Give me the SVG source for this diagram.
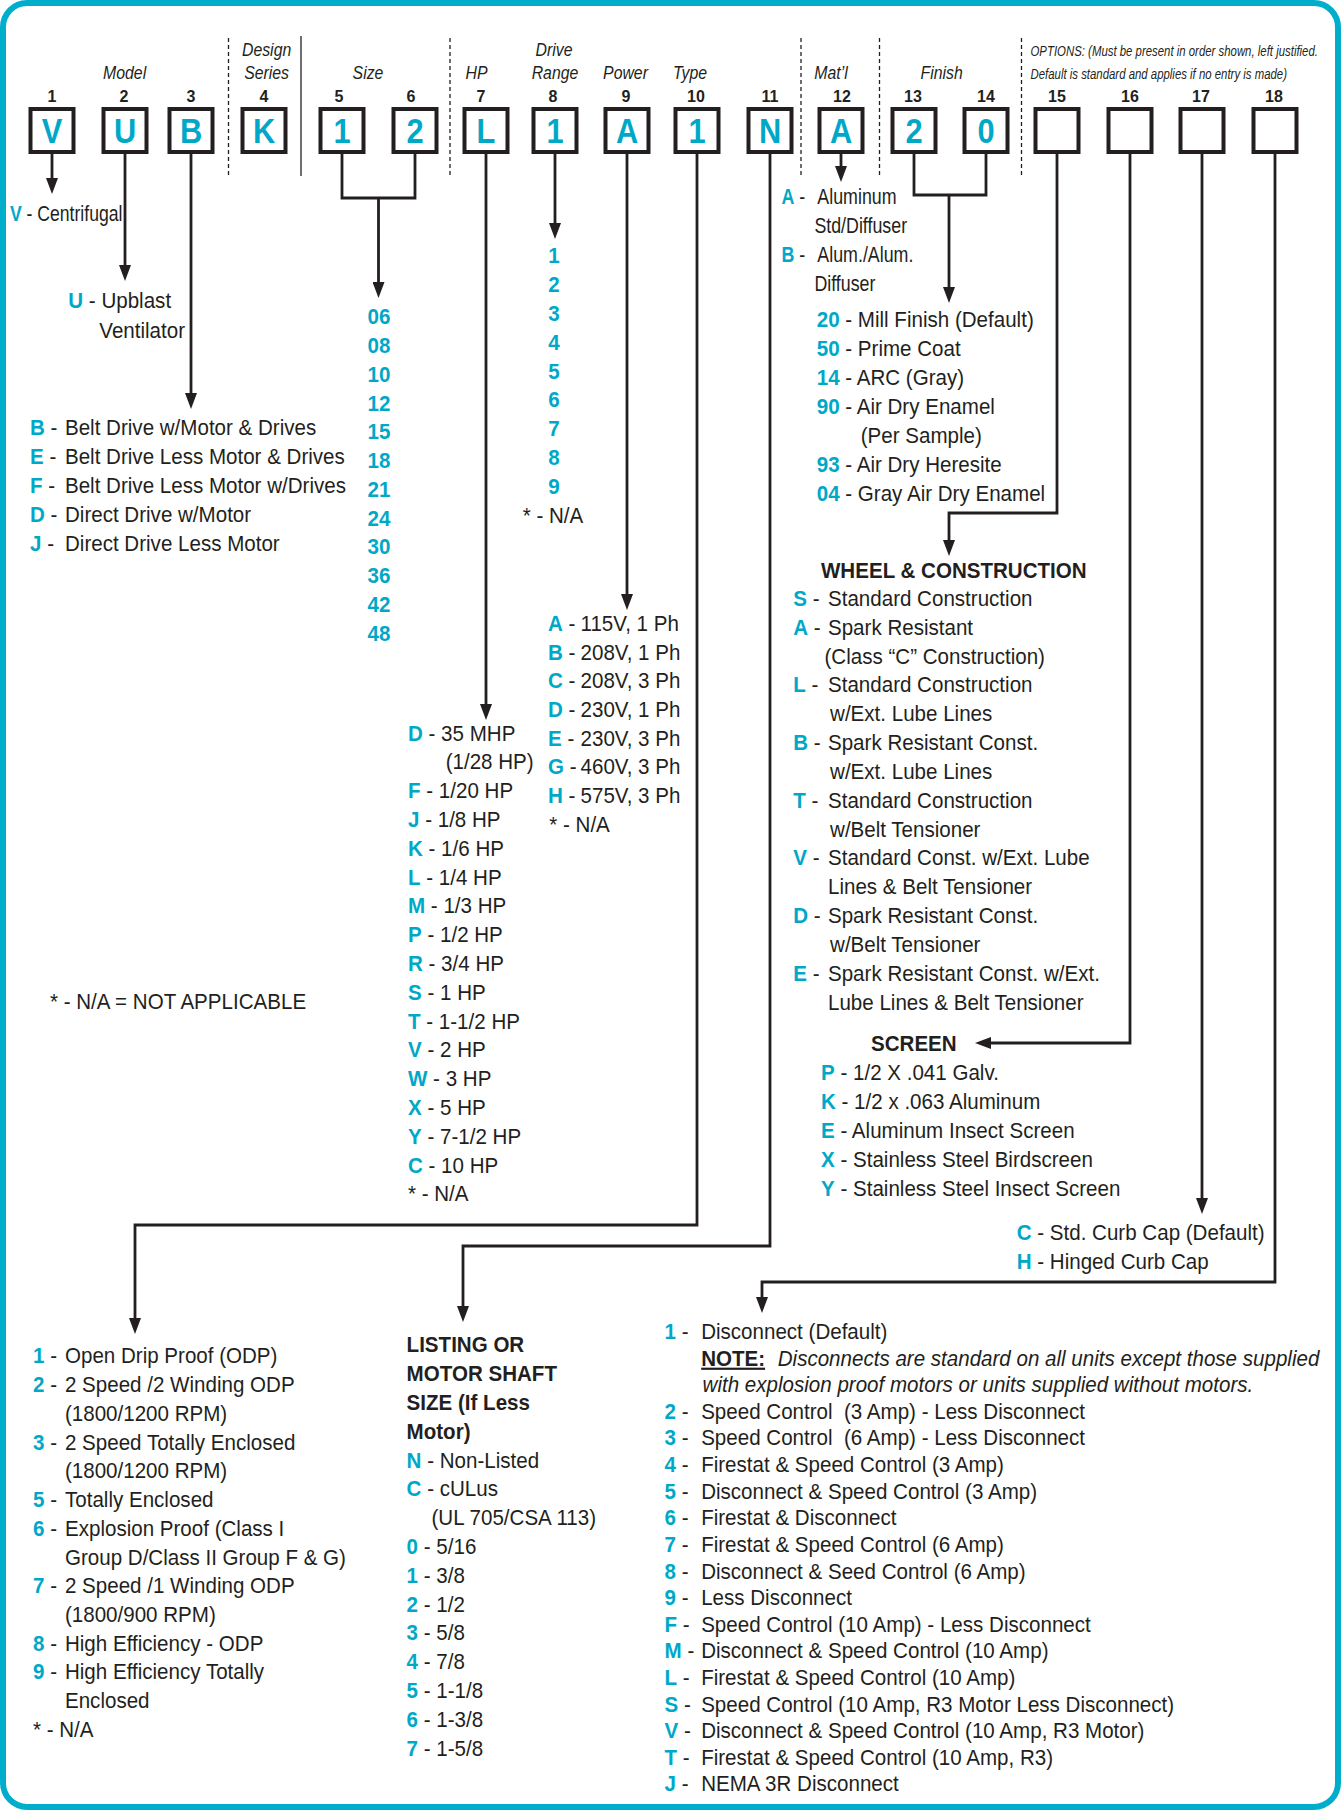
<svg xmlns="http://www.w3.org/2000/svg" width="1341" height="1810" viewBox="0 0 1341 1810">
<style>
text{font-family:"Liberation Sans",Arial,sans-serif;fill:#231f20}
.t{font-size:22px}
.c{fill:#00a8c8;font-weight:bold}
.h{font-weight:bold}
.i{font-style:italic}
.u{text-decoration:underline}
.hd{font-size:18px;font-style:italic;text-anchor:middle}
.op{font-size:15px;font-style:italic}
.num{font-size:16px;font-weight:bold;text-anchor:middle}
.bx{fill:#fff;stroke:#231f20;stroke-width:4}
.bl{font-size:35px;font-weight:bold;fill:#00a8c8;text-anchor:middle}
.ln{fill:none;stroke:#231f20;stroke-width:2.8;marker-end:url(#ah)}
.br{fill:none;stroke:#231f20;stroke-width:2.8}
.sep{stroke:#231f20;stroke-width:1.3;stroke-dasharray:4 3}
.sol{stroke:#231f20;stroke-width:1.3}
</style>
<defs>
<marker id="ah" markerWidth="16" markerHeight="12" refX="6" refY="6" orient="auto" markerUnits="userSpaceOnUse" viewBox="0 0 16 12"><path d="M0,0 L16,6 L0,12 z" fill="#231f20"/></marker>
</defs>
<rect x="0" y="0" width="1341" height="1810" fill="#fff"/>
<rect id="frame" x="3" y="3" width="1335" height="1804" rx="24" fill="#fff" stroke="#00aecb" stroke-width="6"/>

<g id="header">
<text class="hd" transform="translate(124.6 79) scale(.88 1)">Model</text>
<text class="hd" transform="translate(266.6 56) scale(.88 1)">Design</text>
<text class="hd" transform="translate(266.6 79) scale(.88 1)">Series</text>
<text class="hd" transform="translate(368 79) scale(.88 1)">Size</text>
<text class="hd" transform="translate(476.6 79) scale(.88 1)">HP</text>
<text class="hd" transform="translate(554 56) scale(.88 1)">Drive</text>
<text class="hd" transform="translate(555 79) scale(.88 1)">Range</text>
<text class="hd" transform="translate(625.5 79) scale(.88 1)">Power</text>
<text class="hd" transform="translate(690 79) scale(.88 1)">Type</text>
<text class="hd" transform="translate(831 79) scale(.88 1)">Mat’l</text>
<text class="hd" transform="translate(941.7 79) scale(.88 1)">Finish</text>
<text class="op" transform="translate(1030.5 56) scale(.76 1)">OPTIONS: (Must be present in order shown, left justified.</text>
<text class="op" transform="translate(1030.5 78.5) scale(.76 1)">Default is standard and applies if no entry is made)</text>
<line x1="228.5" y1="38" x2="228.5" y2="176" class="sep"/>
<line x1="301" y1="36" x2="301" y2="176" class="sol"/>
<line x1="450" y1="38" x2="450" y2="176" class="sep"/>
<line x1="801" y1="38" x2="801" y2="176" class="sep"/>
<line x1="879.5" y1="38" x2="879.5" y2="176" class="sep"/>
<line x1="1021.5" y1="38" x2="1021.5" y2="176" class="sep"/>
</g>

<g id="pos1"><text class="num" x="52" y="101.5">1</text><rect class="bx" x="30.5" y="109" width="43" height="43"/><text class="bl" transform="translate(52 143) scale(.88 1)">V</text></g>
<g id="pos2"><text class="num" x="124" y="101.5">2</text><rect class="bx" x="103.5" y="109" width="43" height="43"/><text class="bl" transform="translate(125 143) scale(.88 1)">U</text></g>
<g id="pos3"><text class="num" x="191" y="101.5">3</text><rect class="bx" x="169.5" y="109" width="43" height="43"/><text class="bl" transform="translate(191 143) scale(.88 1)">B</text></g>
<g id="pos4"><text class="num" x="264" y="101.5">4</text><rect class="bx" x="242.5" y="109" width="43" height="43"/><text class="bl" transform="translate(264 143) scale(.88 1)">K</text></g>
<g id="pos5"><text class="num" x="339" y="101.5">5</text><rect class="bx" x="320.5" y="109" width="43" height="43"/><text class="bl" transform="translate(342 143) scale(.88 1)">1</text></g>
<g id="pos6"><text class="num" x="411" y="101.5">6</text><rect class="bx" x="393.5" y="109" width="43" height="43"/><text class="bl" transform="translate(415 143) scale(.88 1)">2</text></g>
<g id="pos7"><text class="num" x="481" y="101.5">7</text><rect class="bx" x="464.5" y="109" width="43" height="43"/><text class="bl" transform="translate(486 143) scale(.88 1)">L</text></g>
<g id="pos8"><text class="num" x="553" y="101.5">8</text><rect class="bx" x="533.5" y="109" width="43" height="43"/><text class="bl" transform="translate(555 143) scale(.88 1)">1</text></g>
<g id="pos9"><text class="num" x="626" y="101.5">9</text><rect class="bx" x="605.5" y="109" width="43" height="43"/><text class="bl" transform="translate(627 143) scale(.88 1)">A</text></g>
<g id="pos10"><text class="num" x="696" y="101.5">10</text><rect class="bx" x="675.5" y="109" width="43" height="43"/><text class="bl" transform="translate(697 143) scale(.88 1)">1</text></g>
<g id="pos11"><text class="num" x="770" y="101.5">11</text><rect class="bx" x="748.5" y="109" width="43" height="43"/><text class="bl" transform="translate(770 143) scale(.88 1)">N</text></g>
<g id="pos12"><text class="num" x="842" y="101.5">12</text><rect class="bx" x="819.5" y="109" width="43" height="43"/><text class="bl" transform="translate(841 143) scale(.88 1)">A</text></g>
<g id="pos13"><text class="num" x="913" y="101.5">13</text><rect class="bx" x="892.5" y="109" width="43" height="43"/><text class="bl" transform="translate(914 143) scale(.88 1)">2</text></g>
<g id="pos14"><text class="num" x="986" y="101.5">14</text><rect class="bx" x="964.5" y="109" width="43" height="43"/><text class="bl" transform="translate(986 143) scale(.88 1)">0</text></g>
<g id="pos15"><text class="num" x="1057" y="101.5">15</text><rect class="bx" x="1035.5" y="109" width="43" height="43"/></g>
<g id="pos16"><text class="num" x="1130" y="101.5">16</text><rect class="bx" x="1108.5" y="109" width="43" height="43"/></g>
<g id="pos17"><text class="num" x="1201" y="101.5">17</text><rect class="bx" x="1180.5" y="109" width="43" height="43"/></g>
<g id="pos18"><text class="num" x="1274" y="101.5">18</text><rect class="bx" x="1253.5" y="109" width="43" height="43"/></g>

<g id="connectors">
<path class="ln" d="M52,153 V184"/>
<path class="ln" d="M125,153 V271"/>
<path class="ln" d="M191,153 V399"/>
<path class="br" d="M342,153 V198 H415 V153"/>
<path class="ln" d="M378.5,198 V288"/>
<path class="ln" d="M486,153 V710"/>
<path class="ln" d="M555,153 V229"/>
<path class="ln" d="M627,153 V600"/>
<path class="ln" d="M697,153 V1225 H135 V1324"/>
<path class="ln" d="M770,153 V1246 H463 V1312"/>
<path class="ln" d="M841,153 V172"/>
<path class="br" d="M914,153 V195 H986 V153"/>
<path class="ln" d="M949,195 V293"/>
<path class="ln" d="M1057,153 V513 H949 V546"/>
<path class="ln" d="M1130,153 V1043 H985"/>
<path class="ln" d="M1202,153 V1204"/>
<path class="ln" d="M1275,153 V1282 H762 V1303"/>
</g>

<g id="opt-model1" class="t" transform="translate(10 0) scale(.8 1)"><text y="221"><tspan class="c">V</tspan> - Centrifugal</text></g>
<g id="opt-model2" class="t" transform="translate(68.3 0) scale(.935 1)"><text y="308.5"><tspan class="c">U</tspan> - Upblast</text><text x="33.2" y="338">Ventilator</text></g>
<g id="opt-model3" class="t" transform="translate(30 0) scale(.935 1)">
<text y="435.5"><tspan class="c">B</tspan> -<tspan x="37.4">Belt Drive w/Motor &amp; Drives</tspan></text>
<text y="464.3"><tspan class="c">E</tspan> -<tspan x="37.4">Belt Drive Less Motor &amp; Drives</tspan></text>
<text y="493.1"><tspan class="c">F</tspan> -<tspan x="37.4">Belt Drive Less Motor w/Drives</tspan></text>
<text y="521.9"><tspan class="c">D</tspan> -<tspan x="37.4">Direct Drive w/Motor</tspan></text>
<text y="550.7"><tspan class="c">J</tspan> -<tspan x="37.4">Direct Drive Less Motor</tspan></text>
</g>
<g id="opt-size" class="t" transform="translate(367.5 0) scale(.935 1)">
<text class="c" y="324.5">06</text><text class="c" y="353.25">08</text><text class="c" y="382">10</text><text class="c" y="410.75">12</text><text class="c" y="439.5">15</text><text class="c" y="468.25">18</text><text class="c" y="497">21</text><text class="c" y="525.75">24</text><text class="c" y="554.5">30</text><text class="c" y="583.25">36</text><text class="c" y="612">42</text><text class="c" y="640.75">48</text>
</g>
<g id="opt-drive" class="t" transform="translate(548.3 0) scale(.935 1)">
<text class="c" y="263.5">1</text><text class="c" y="292.3">2</text><text class="c" y="321.1">3</text><text class="c" y="349.9">4</text><text class="c" y="378.7">5</text><text class="c" y="407.5">6</text><text class="c" y="436.3">7</text><text class="c" y="465.1">8</text><text class="c" y="493.9">9</text>
<text x="-27.4" y="522.7">* - N/A</text>
</g>
<g id="opt-power" class="t" transform="translate(548 0) scale(.935 1)">
<text y="631"><tspan class="c">A</tspan> -<tspan x="34.8">115V, 1 Ph</tspan></text>
<text y="659.7"><tspan class="c">B</tspan> -<tspan x="34.8">208V, 1 Ph</tspan></text>
<text y="688.4"><tspan class="c">C</tspan> -<tspan x="34.8">208V, 3 Ph</tspan></text>
<text y="717.1"><tspan class="c">D</tspan> -<tspan x="34.8">230V, 1 Ph</tspan></text>
<text y="745.8"><tspan class="c">E</tspan> -<tspan x="34.8">230V, 3 Ph</tspan></text>
<text y="774.5"><tspan class="c">G</tspan> -<tspan x="34.8">460V, 3 Ph</tspan></text>
<text y="803.2"><tspan class="c">H</tspan> -<tspan x="34.8">575V, 3 Ph</tspan></text>
<text x="1.4" y="831.9">* - N/A</text>
</g>
<g id="opt-hp" class="t" transform="translate(408 0) scale(.935 1)">
<text y="740.7"><tspan class="c">D</tspan> - 35 MHP</text>
<text x="40.3" y="769.5">(1/28 HP)</text>
<text y="798.3"><tspan class="c">F</tspan> - 1/20 HP</text>
<text y="827.1"><tspan class="c">J</tspan> - 1/8 HP</text>
<text y="855.9"><tspan class="c">K</tspan> - 1/6 HP</text>
<text y="884.7"><tspan class="c">L</tspan> - 1/4 HP</text>
<text y="913.5"><tspan class="c">M</tspan> - 1/3 HP</text>
<text y="942.3"><tspan class="c">P</tspan> - 1/2 HP</text>
<text y="971.1"><tspan class="c">R</tspan> - 3/4 HP</text>
<text y="999.9"><tspan class="c">S</tspan> - 1 HP</text>
<text y="1028.7"><tspan class="c">T</tspan> - 1-1/2 HP</text>
<text y="1057.5"><tspan class="c">V</tspan> - 2 HP</text>
<text y="1086.3"><tspan class="c">W</tspan> - 3 HP</text>
<text y="1115.1"><tspan class="c">X</tspan> - 5 HP</text>
<text y="1143.9"><tspan class="c">Y</tspan> - 7-1/2 HP</text>
<text y="1172.7"><tspan class="c">C</tspan> - 10 HP</text>
<text y="1201.5">* - N/A</text>
</g>
<g id="opt-matl" class="t" transform="translate(781.5 0) scale(.81 1)">
<text y="204.5"><tspan class="c">A</tspan> -<tspan x="44.3">Aluminum</tspan></text>
<text x="40.6" y="233.3">Std/Diffuser</text>
<text y="262.1"><tspan class="c">B</tspan> -<tspan x="44.3">Alum./Alum.</tspan></text>
<text x="40.6" y="290.9">Diffuser</text>
</g>
<g id="opt-finish" class="t" transform="translate(816.7 0) scale(.935 1)">
<text y="327"><tspan class="c">20</tspan> - Mill Finish (Default)</text>
<text y="355.95"><tspan class="c">50</tspan> - Prime Coat</text>
<text y="384.9"><tspan class="c">14</tspan> - ARC (Gray)</text>
<text y="413.85"><tspan class="c">90</tspan> - Air Dry Enamel</text>
<text x="47.1" y="442.8">(Per Sample)</text>
<text y="471.75"><tspan class="c">93</tspan> - Air Dry Heresite</text>
<text y="500.7"><tspan class="c">04</tspan> - Gray Air Dry Enamel</text>
</g>
<g id="opt-wheel" class="t" transform="translate(793.3 0) scale(.935 1)">
<text class="h" x="29.6" y="578">WHEEL &amp; CONSTRUCTION</text>
<text y="606"><tspan class="c">S</tspan> -<tspan x="37.1">Standard Construction</tspan></text>
<text y="634.8"><tspan class="c">A</tspan> -<tspan x="37.1">Spark Resistant</tspan></text>
<text x="33.4" y="663.7">(Class “C” Construction)</text>
<text y="692.5"><tspan class="c">L</tspan> -<tspan x="37.1">Standard Construction</tspan></text>
<text x="39.3" y="721.3">w/Ext. Lube Lines</text>
<text y="750.2"><tspan class="c">B</tspan> -<tspan x="37.1">Spark Resistant Const.</tspan></text>
<text x="39.3" y="779">w/Ext. Lube Lines</text>
<text y="807.8"><tspan class="c">T</tspan> -<tspan x="37.1">Standard Construction</tspan></text>
<text x="39.3" y="836.6">w/Belt Tensioner</text>
<text y="865.5"><tspan class="c">V</tspan> -<tspan x="37.1">Standard Const. w/Ext. Lube</tspan></text>
<text x="37.1" y="894.3">Lines &amp; Belt Tensioner</text>
<text y="923.1"><tspan class="c">D</tspan> -<tspan x="37.1">Spark Resistant Const.</tspan></text>
<text x="39.3" y="952">w/Belt Tensioner</text>
<text y="980.8"><tspan class="c">E</tspan> -<tspan x="37.1">Spark Resistant Const. w/Ext.</tspan></text>
<text x="37.1" y="1009.6">Lube Lines &amp; Belt Tensioner</text>
</g>
<g id="opt-screen" class="t" transform="translate(821 0) scale(.935 1)">
<text class="h" x="53.5" y="1051">SCREEN</text>
<text y="1080.5"><tspan class="c">P</tspan> - 1/2 X .041 Galv.</text>
<text y="1109.35"><tspan class="c">K</tspan> - 1/2 x .063 Aluminum</text>
<text y="1138.2"><tspan class="c">E</tspan> - Aluminum Insect Screen</text>
<text y="1167.05"><tspan class="c">X</tspan> - Stainless Steel Birdscreen</text>
<text y="1195.9"><tspan class="c">Y</tspan> - Stainless Steel Insect Screen</text>
</g>
<g id="opt-curb" class="t" transform="translate(1016.7 0) scale(.935 1)">
<text y="1240.5"><tspan class="c">C</tspan> - Std. Curb Cap (Default)</text>
<text y="1269.3"><tspan class="c">H</tspan> - Hinged Curb Cap</text>
</g>
<g id="note-na" class="t" transform="translate(50 0) scale(.935 1)"><text y="1009">* - N/A = NOT APPLICABLE</text></g>
<g id="opt-type" class="t" transform="translate(33 0) scale(.935 1)">
<text y="1363.5"><tspan class="c">1</tspan> -<tspan x="34.2">Open Drip Proof (ODP)</tspan></text>
<text y="1392.2"><tspan class="c">2</tspan> -<tspan x="34.2">2 Speed /2 Winding ODP</tspan></text>
<text x="34.2" y="1421">(1800/1200 RPM)</text>
<text y="1449.7"><tspan class="c">3</tspan> -<tspan x="34.2">2 Speed Totally Enclosed</tspan></text>
<text x="34.2" y="1478.4">(1800/1200 RPM)</text>
<text y="1507.2"><tspan class="c">5</tspan> -<tspan x="34.2">Totally Enclosed</tspan></text>
<text y="1535.9"><tspan class="c">6</tspan> -<tspan x="34.2">Explosion Proof (Class I</tspan></text>
<text x="34.2" y="1564.6">Group D/Class II Group F &amp; G)</text>
<text y="1593.3"><tspan class="c">7</tspan> -<tspan x="34.2">2 Speed /1 Winding ODP</tspan></text>
<text x="34.2" y="1622.1">(1800/900 RPM)</text>
<text y="1650.8"><tspan class="c">8</tspan> -<tspan x="34.2">High Efficiency - ODP</tspan></text>
<text y="1679.5"><tspan class="c">9</tspan> -<tspan x="34.2">High Efficiency Totally</tspan></text>
<text x="34.2" y="1708.3">Enclosed</text>
<text y="1737">* - N/A</text>
</g>
<g id="opt-listing" class="t" transform="translate(406.6 0) scale(.935 1)">
<text class="h" y="1352.5">LISTING OR</text>
<text class="h" y="1381.3">MOTOR SHAFT</text>
<text class="h" y="1410.1">SIZE (If Less</text>
<text class="h" y="1438.9">Motor)</text>
<text y="1467.7"><tspan class="c">N</tspan> - Non-Listed</text>
<text y="1496.5"><tspan class="c">C</tspan> - cULus</text>
<text x="26.6" y="1525.2">(UL 705/CSA 113)</text>
<text y="1554"><tspan class="c">0</tspan> - 5/16</text>
<text y="1582.8"><tspan class="c">1</tspan> - 3/8</text>
<text y="1611.6"><tspan class="c">2</tspan> - 1/2</text>
<text y="1640.4"><tspan class="c">3</tspan> - 5/8</text>
<text y="1669.2"><tspan class="c">4</tspan> - 7/8</text>
<text y="1698"><tspan class="c">5</tspan> - 1-1/8</text>
<text y="1726.8"><tspan class="c">6</tspan> - 1-3/8</text>
<text y="1755.6"><tspan class="c">7</tspan> - 1-5/8</text>
</g>
<g id="opt-18" class="t" transform="translate(664.6 0) scale(.935 1)">
<text y="1339"><tspan class="c">1</tspan> -<tspan x="39.1">Disconnect (Default)</tspan></text>
<text y="1365.6"><tspan class="h u" x="39.1">NOTE:</tspan><tspan class="i" x="121">Disconnects are standard on all units except those supplied</tspan></text>
<text class="i" x="40.6" y="1392.2">with explosion proof motors or units supplied without motors.</text>
<text y="1418.9"><tspan class="c">2</tspan> -<tspan x="39.1">Speed Control&#160; (3 Amp) - Less Disconnect</tspan></text>
<text y="1445.5"><tspan class="c">3</tspan> -<tspan x="39.1">Speed Control&#160; (6 Amp) - Less Disconnect</tspan></text>
<text y="1472.1"><tspan class="c">4</tspan> -<tspan x="39.1">Firestat &amp; Speed Control (3 Amp)</tspan></text>
<text y="1498.7"><tspan class="c">5</tspan> -<tspan x="39.1">Disconnect &amp; Speed Control (3 Amp)</tspan></text>
<text y="1525.3"><tspan class="c">6</tspan> -<tspan x="39.1">Firestat &amp; Disconnect</tspan></text>
<text y="1552"><tspan class="c">7</tspan> -<tspan x="39.1">Firestat &amp; Speed Control (6 Amp)</tspan></text>
<text y="1578.6"><tspan class="c">8</tspan> -<tspan x="39.1">Disconnect &amp; Seed Control (6 Amp)</tspan></text>
<text y="1605.2"><tspan class="c">9</tspan> -<tspan x="39.1">Less Disconnect</tspan></text>
<text y="1631.8"><tspan class="c">F</tspan> -<tspan x="39.1">Speed Control (10 Amp) - Less Disconnect</tspan></text>
<text y="1658.4"><tspan class="c">M</tspan> -<tspan x="39.1">Disconnect &amp; Speed Control (10 Amp)</tspan></text>
<text y="1685.1"><tspan class="c">L</tspan> -<tspan x="39.1">Firestat &amp; Speed Control (10 Amp)</tspan></text>
<text y="1711.7"><tspan class="c">S</tspan> -<tspan x="39.1">Speed Control (10 Amp, R3 Motor Less Disconnect)</tspan></text>
<text y="1738.3"><tspan class="c">V</tspan> -<tspan x="39.1">Disconnect &amp; Speed Control (10 Amp, R3 Motor)</tspan></text>
<text y="1764.9"><tspan class="c">T</tspan> -<tspan x="39.1">Firestat &amp; Speed Control (10 Amp, R3)</tspan></text>
<text y="1791.5"><tspan class="c">J</tspan> -<tspan x="39.1">NEMA 3R Disconnect</tspan></text>
</g>
</svg>
